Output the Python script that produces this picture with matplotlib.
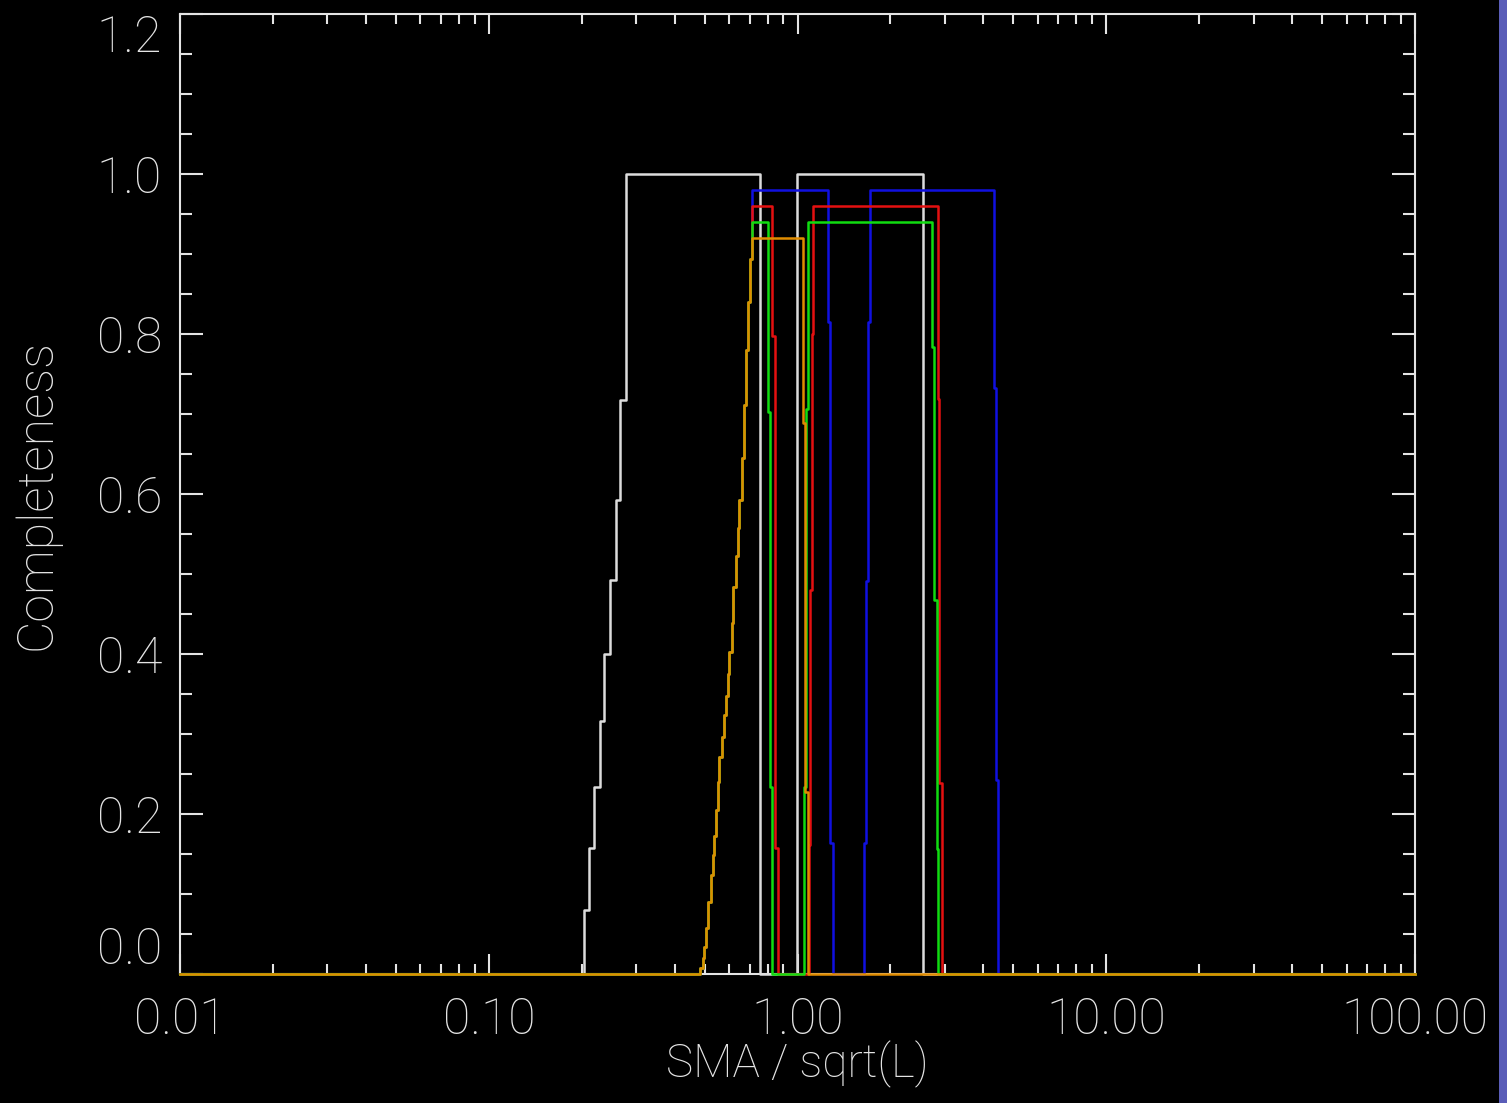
import matplotlib
matplotlib.use("Agg")
import matplotlib.pyplot as plt
from matplotlib.patches import Rectangle
from matplotlib.ticker import FixedLocator, FixedFormatter, MultipleLocator, LogLocator, NullFormatter

# -----------------------------
# Completeness curves (step edges in SMA/sqrt(L), level after each edge)
# -----------------------------
white_x = [0.01, 0.2030, 0.2117, 0.2187, 0.2287, 0.2357, 0.2476, 0.2589, 0.2671, 0.2777,
           0.7562, 0.9941, 2.555, 100.0]
white_y = [0.0, 0.080, 0.157, 0.234, 0.316, 0.400, 0.4925, 0.592, 0.717, 1.0,
           0.0, 1.0, 0.0, 0.0]

# inner edge shared by the four coloured curves
rise_x = [0.4832, 0.4931, 0.4991, 0.5054, 0.5142, 0.5235, 0.5313, 0.5377, 0.5446, 0.5515,
          0.5581, 0.5682, 0.5780, 0.5867, 0.5942, 0.6014, 0.6122, 0.6196, 0.6307, 0.6402,
          0.6479, 0.6596, 0.6710, 0.6811, 0.6929, 0.7017]
rise_y = [0.0075, 0.020, 0.034, 0.057, 0.090, 0.124, 0.149, 0.173, 0.205, 0.240,
          0.271, 0.296, 0.324, 0.347, 0.375, 0.403, 0.439, 0.484, 0.523, 0.558,
          0.593, 0.645, 0.711, 0.780, 0.840, 0.894]

blue_x = [0.7107, 1.2524, 1.2789, 1.3078, 1.6422, 1.6632, 1.6882, 1.7174, 4.328, 4.393, 4.449, 100.0]
blue_y = [0.98, 0.815, 0.164, 0.0, 0.164, 0.491, 0.815, 0.98, 0.732, 0.243, 0.0, 0.0]

red_x = [0.7107, 0.8249, 0.8455, 0.8627, 1.0855, 1.0977, 1.1117, 1.1251, 2.8449, 2.879, 2.931, 100.0]
red_y = [0.96, 0.798, 0.158, 0.0, 0.161, 0.48, 0.80, 0.96, 0.719, 0.239, 0.0, 0.0]

green_x = [0.7107, 0.8008, 0.8145, 0.8249, 1.0473, 1.0655, 1.0790, 2.7204, 2.7737, 2.8238, 2.8577, 100.0]
green_y = [0.94, 0.703, 0.234, 0.0, 0.234, 0.706, 0.94, 0.784, 0.468, 0.156, 0.0, 0.0]

orange_x = [0.7107, 1.0442, 1.0575, 1.0775, 100.0]
orange_y = [0.92, 0.689, 0.228, 0.0, 0.0]

xtick_vals = [0.01, 0.1, 1.0, 10.0, 100.0]
xtick_text = ["0.01", "0.10", "1.00", "10.00", "100.00"]
ytick_vals = [0.0, 0.2, 0.4, 0.6, 0.8, 1.0, 1.2]
ytick_text = ["0.0", "0.2", "0.4", "0.6", "0.8", "1.0", "1.2"]

FG = "#e4e4e4"
FONT = dict(family="Roboto", weight="light", size=36)

# -----------------------------
# Figure
# -----------------------------
fig = plt.figure(figsize=(15.07, 11.03), dpi=100, facecolor="black")
ax = fig.add_axes([180 / 1507, 129 / 1103, 1235 / 1507, 960 / 1103])
ax.set_facecolor("black")

ax.step(white_x, white_y, where="post", color="#dcdcdc", lw=1.8, zorder=3, clip_on=False)
curves = [
    (blue_x, blue_y, "#1010e0"),
    (red_x, red_y, "#e41010"),
    (green_x, green_y, "#10dc10"),
    (orange_x, orange_y, "#e08c00"),
]
for cx, cy, col in curves:
    ax.step([0.01] + rise_x + cx, [0.0] + rise_y + cy, where="post", color=col,
            lw=1.8, zorder=3, clip_on=False)

ax.set_xscale("log")
ax.set_xlim(0.01, 100)
ax.set_ylim(0, 1.2)

for s in ax.spines.values():
    s.set_color(FG)
    s.set_linewidth(1.5)

ax.xaxis.set_major_locator(FixedLocator(xtick_vals))
ax.xaxis.set_major_formatter(FixedFormatter(xtick_text))
ax.xaxis.set_minor_locator(LogLocator(base=10, subs=range(2, 10)))
ax.xaxis.set_minor_formatter(NullFormatter())
ax.yaxis.set_major_locator(FixedLocator(ytick_vals))
ax.yaxis.set_major_formatter(FixedFormatter(ytick_text))
ax.yaxis.set_minor_locator(MultipleLocator(0.05))

ax.tick_params(which="both", direction="in", top=True, right=True, color=FG, width=1.5)
ax.tick_params(axis="x", which="major", length=14.5, pad=16)
ax.tick_params(axis="x", which="minor", length=7.2)
ax.tick_params(axis="y", which="major", length=16.5, pad=13)
ax.tick_params(axis="y", which="minor", length=8.5)

for lab in ax.get_xticklabels() + ax.get_yticklabels():
    lab.set_fontfamily(FONT["family"])
    lab.set_fontweight(FONT["weight"])
    lab.set_fontsize(FONT["size"])
    lab.set_color(FG)

# keep the end labels inside the frame
ylabs = ax.get_yticklabels()
ylabs[0].set_verticalalignment("bottom")
ylabs[-1].set_verticalalignment("top")

ax.set_xlabel("SMA / sqrt(L)", color=FG, labelpad=-2, family="Roboto", weight="light", size=33)
ax.set_ylabel("Completeness", color=FG, labelpad=26, **FONT)

# side strip along the right edge
fig.patches.append(Rectangle((1499 / 1507, 0), 8 / 1507, 1, transform=fig.transFigure,
                             facecolor="#5a5db8", edgecolor="none"))

fig.savefig("out.png", dpi=100, facecolor="black")
